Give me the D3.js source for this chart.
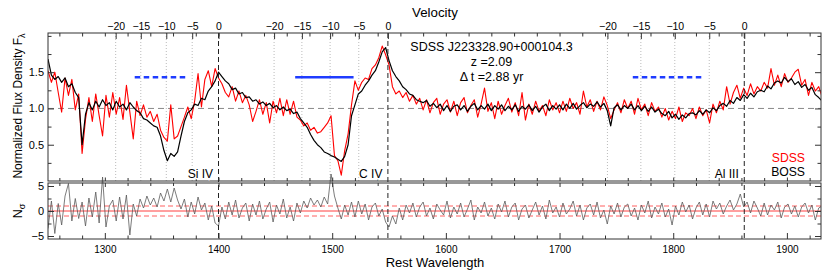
<!DOCTYPE html>
<meta charset='utf-8'>
<style>
body { margin: 0; background: #fff; }
svg text { font-family: 'Liberation Sans', Arial, sans-serif; fill: #000; }
.frame { fill: none; stroke: #333; stroke-width: 1; }
.axis path { display: none; }
.axis line { stroke: #333; }
.halo { stroke: #fff; stroke-width: 2.5; paint-order: stroke; }
</style>
<svg width='830' height='278'></svg>
<script src='https://cdn.jsdelivr.net/npm/d3@7'></script>
<script>
  // rest-frame wavelength grid, 3 A bins
  var wave = d3.range(1250, 1932, 3);

  // BOSS spectrum (black)
  var boss = [
    1.68, 1.46, 1.40, 1.44, 1.36, 1.42, 1.30, 1.34, 1.22, 1.15,
    0.50, 0.92, 1.08, 0.98, 1.10, 1.02, 1.12, 1.04, 1.08, 0.98,
    1.10, 1.02, 1.06, 0.98, 1.08, 1.02, 0.97, 0.94, 0.86, 0.84,
    0.80, 0.76, 0.74, 0.62, 0.42, 0.28, 0.38, 0.34, 0.40, 0.62,
    0.82, 0.94, 0.98, 1.06, 1.04, 1.14, 1.12, 1.24, 1.30, 1.38,
    1.50, 1.44, 1.38, 1.34, 1.26, 1.28, 1.20, 1.22, 1.15, 1.16,
    1.10, 1.12, 1.06, 1.09, 1.04, 1.07, 1.01, 1.04, 0.98, 1.02,
    0.97, 0.99, 0.93, 0.95, 0.86, 0.80, 0.74, 0.64, 0.56, 0.50,
    0.46, 0.40, 0.38, 0.35, 0.33, 0.30, 0.27, 0.34, 0.50, 0.90,
    1.05, 1.20, 1.24, 1.32, 1.38, 1.46, 1.52, 1.64, 1.78, 1.84,
    1.66, 1.52, 1.44, 1.38, 1.30, 1.26, 1.20, 1.18, 1.12, 1.10,
    1.08, 1.11, 1.03, 1.07, 1.01, 1.06, 0.97, 1.04, 0.96, 1.03,
    1.05, 0.98, 1.04, 0.96, 1.03, 1.07, 0.98, 1.04, 0.99, 1.06,
    0.97, 1.04, 0.99, 1.05, 0.97, 1.03, 0.98, 1.05, 0.96, 1.03,
    0.99, 1.05, 0.97, 1.03, 0.95, 1.02, 1.06, 0.97, 1.04, 0.99,
    1.05, 0.98, 1.06, 1.00, 1.07, 0.99, 1.04, 1.08, 1.01, 1.06,
    1.03, 1.09, 1.02, 1.07, 0.97, 0.76, 1.01, 1.05, 0.98, 1.04,
    1.00, 1.06, 0.98, 1.04, 0.97, 1.03, 0.96, 1.02, 0.95, 0.99,
    0.93, 0.90, 0.96, 0.87, 0.92, 0.85, 0.91, 0.87, 0.93, 0.94,
    0.91, 0.97, 0.92, 0.98, 0.94, 1.01, 0.97, 1.04, 1.07, 1.03,
    1.11, 1.07, 1.15, 1.11, 1.19, 1.14, 1.21, 1.16, 1.23, 1.25,
    1.23, 1.31, 1.27, 1.35, 1.38, 1.35, 1.43, 1.37, 1.41, 1.33,
    1.37, 1.29, 1.33, 1.25, 1.29, 1.19, 1.15, 1.10
  ];

  // SDSS spectrum (red)
  var sdss = [
    1.52, 1.36, 1.50, 1.22, 0.95, 1.42, 1.18, 1.40, 0.98, 1.20,
    0.38, 0.85, 1.15, 0.82, 1.20, 0.90, 0.62, 1.18, 0.88, 1.22,
    0.92, 1.15, 0.85, 1.32, 0.95, 0.58, 1.10, 0.90, 1.05, 0.88,
    0.96, 0.82, 0.92, 0.70, 0.60, 0.55, 1.05, 0.58, 0.62, 0.75,
    0.88, 1.02, 0.86, 1.10, 1.48, 1.02, 1.40, 1.52, 1.30, 1.55,
    1.42, 1.34, 1.22, 1.16, 1.30, 1.10, 1.24, 1.08, 1.18, 1.05,
    0.82, 0.96, 1.12, 0.92, 1.08, 0.80, 1.10, 0.94, 1.14, 0.90,
    1.12, 0.92, 1.10, 0.88, 0.84, 0.76, 0.80, 0.70, 0.74, 0.66,
    0.68, 0.74, 0.80, 0.90, 0.35, 0.28, 0.08, 0.42, 0.65, 1.05,
    1.38, 1.25, 1.36, 1.42, 1.40, 1.55, 1.60, 1.70, 1.86, 1.74,
    1.60, 1.30, 1.20, 1.24, 1.15, 1.22, 1.10, 1.18, 1.06, 1.14,
    0.98, 1.12, 0.94, 1.08, 1.14, 0.92, 1.06, 1.12, 0.95, 1.10,
    0.90, 1.08, 1.15, 0.94, 1.04, 1.12, 0.88, 1.06, 1.28, 0.96,
    1.08, 0.86, 1.10, 0.92, 1.04, 1.14, 0.95, 1.08, 0.90, 1.22,
    0.84, 1.06, 0.92, 1.10, 0.96, 1.04, 0.90, 1.12, 0.98, 1.08,
    0.94, 1.10, 0.96, 1.14, 1.00, 1.08, 0.92, 1.24, 1.02, 1.12,
    0.96, 1.10, 0.98, 1.16, 1.04, 0.86, 0.98, 1.08, 0.94, 1.12,
    1.00, 1.10, 0.92, 1.14, 0.98, 1.06, 0.90, 1.08, 0.96, 1.02,
    0.88, 1.00, 0.84, 0.96, 0.86, 1.02, 0.82, 0.94, 0.90, 1.00,
    0.86, 1.02, 0.90, 0.98, 0.80, 1.06, 0.94, 1.10, 0.98, 1.30,
    1.06, 1.22, 1.32, 1.14, 1.28, 1.18, 1.34, 1.20, 1.30, 1.24,
    1.36, 1.28, 1.55, 1.32, 1.46, 1.30, 1.48, 1.36, 1.42, 1.50,
    1.54, 1.32, 1.40, 1.18, 1.36, 1.24, 1.30, 1.16
  ];

  // N_sigma difference (bottom panel)
  var nsig = [
    -3.5, 2.0, -4.5, 1.5, -2.8, 3.0, 5.5, -2.0, 2.5, -1.5,
    1.8, -3.0, 2.6, -1.2, 3.8, -2.4, 6.8, -3.2, 1.0, 2.2,
    -2.0, 2.8, -1.6, 3.2, -4.8, 1.4, -1.0, 2.4, 0.6, 3.0,
    1.2, 2.6, 0.8, 3.6, 2.0, 4.4, 1.8, 4.6, 2.2, 0.4,
    2.4, -1.2, 1.8, -0.6, 2.8, 0.2, 1.6, -1.8, 1.0, -2.4,
    -3.0, 0.8, -1.6, 1.8, -0.8, 2.2, -1.4, 0.6, 1.6, -2.0,
    1.4, -0.8, 2.0, -1.6, 0.4, 1.8, -2.2, 1.2, -0.6, 2.4,
    -1.4, 0.8, -2.0, 1.6, -0.4, 2.0, 0.6, 2.6, 1.2, 2.2,
    0.8, 2.8, 1.4, 7.4, 3.0, 0.6, -1.6, 1.2, -0.8, 1.8,
    -1.2, 2.0, -0.6, 1.4, -1.8, 0.8, 1.6, -1.0, 0.4, -2.2,
    -3.2, -1.0, -2.6, 0.6, -1.8, 1.2, -0.4, 1.6, -1.2, 0.8,
    1.8, -1.0, 0.6, -1.6, 1.4, 0.2, -0.8, 2.0, -1.4, 0.8,
    -0.6, 1.6, -1.2, 0.4, 2.2, -1.8, 0.8, -0.4, 1.8, -1.0,
    0.6, -1.6, 1.4, -0.2, 2.0, -1.2, 0.8, 1.6, -1.8, 0.4,
    1.2, -1.4, 0.2, 1.8, -0.8, 1.0, -1.6, 2.2, -0.4, 0.8,
    -1.2, 1.6, -0.6, 0.4, 2.0, -1.0, 1.2, -1.8, 0.6, 1.4,
    -0.8, 1.8, -1.4, 0.2, -2.6, 1.0, -0.6, 1.6, -1.2, 0.8,
    1.4, -1.0, 0.6, -1.8, 1.2, -0.4, 2.0, -1.4, 0.8, -0.6,
    1.6, -1.2, 0.4, -2.8, 1.0, -0.8, 1.8, -0.2, 1.2, -1.6,
    0.6, 1.8, -0.8, 1.4, -1.2, 2.0, 0.4, 1.6, -0.6, 1.0,
    2.2, 0.2, 1.4, 3.4, 0.8, 1.8, -0.4, 2.0, 0.6, -1.0,
    1.6, -0.8, 1.2, 0.2, 1.8, -1.4, 0.8, 1.4, -0.6, 1.0,
    -1.2, 0.8, 1.6, -0.4, 1.2, -1.8, 0.6, 1.0
  ];

  var lineNames = ['Si IV', 'C IV', 'Al III'];
  var lineWave = [1400, 1549, 1862.5];
  var troughDashed = [true, false, true];
  var troughVel = [-16.2, -5.9];      // 1000 km/s
  var troughLevel = 1.43;
  var velTicks = [-20, -15, -10, -5, 0];
  var waveTicks = [1300, 1400, 1500, 1600, 1700, 1800, 1900];
  var fluxTicks = [0.5, 1.0, 1.5];
  var fluxMinor = [0.25, 0.75, 1.25, 1.75, 2.0];
  var nsigTicks = [-5, 0, 5];
  var nsigMinor = [-2.5, 2.5];

  var svg = d3.select('svg');
  var L = 48, R = 821, T1 = 33, B1 = 181, T2 = 183, B2 = 239;

  var x = d3.scaleLinear().domain([1250, 1930]).range([L, R]);
  var y1 = d3.scaleLinear().domain([0, 2.04]).range([B1, T1]);
  var y2 = d3.scaleLinear().domain([-5.6, 5.6]).range([B2, T2]);

  var c = 299792.458;
  function velToWave(v, w0) {
    var b = v * 1000 / c;
    return w0 * Math.sqrt((1 + b) / (1 - b));
  }
  function minus(d) { return d < 0 ? '\u2212' + (-d) : '' + d; }

  var defs = svg.append('defs');
  defs.append('clipPath').attr('id', 'clipTop')
    .append('rect').attr('x', L).attr('y', T1).attr('width', R - L).attr('height', B1 - T1);
  defs.append('clipPath').attr('id', 'clipBot')
    .append('rect').attr('x', L).attr('y', 0).attr('height', B2).attr('width', R - L);

  // ---- top panel guides
  var guides = svg.append('g');
  lineWave.forEach(function(w0) {
    velTicks.slice(0, 4).forEach(function(v) {
      guides.append('line')
        .attr('x1', x(velToWave(v, w0))).attr('x2', x(velToWave(v, w0)))
        .attr('y1', T1).attr('y2', B1)
        .attr('stroke', '#aaa').attr('stroke-width', 0.8).attr('stroke-dasharray', '1,2');
    });
  });
  guides.append('line')
    .attr('x1', L).attr('x2', R).attr('y1', y1(1)).attr('y2', y1(1))
    .attr('stroke', '#888').attr('stroke-dasharray', '6,4');

  // ---- spectra
  var line1 = d3.line().x(function(d, i) { return x(wave[i]); }).y(function(d) { return y1(d); });
  var spec = svg.append('g').attr('clip-path', 'url(#clipTop)');
  spec.append('path').datum(sdss).attr('d', line1)
    .attr('fill', 'none').attr('stroke', '#ff0000').attr('stroke-width', 1.1).attr('stroke-linejoin', 'round');
  spec.append('path').datum(boss).attr('d', line1)
    .attr('fill', 'none').attr('stroke', '#000').attr('stroke-width', 1.2).attr('stroke-linejoin', 'round');

  // ---- BAL trough markers
  lineWave.forEach(function(w0, i) {
    svg.append('line')
      .attr('x1', x(velToWave(troughVel[0], w0))).attr('x2', x(velToWave(troughVel[1], w0)))
      .attr('y1', y1(troughLevel)).attr('y2', y1(troughLevel))
      .attr('stroke', '#1f3cff').attr('stroke-width', 2.6)
      .attr('stroke-dasharray', troughDashed[i] ? '5.5,3.5' : null);
  });

  // ---- bottom panel
  var bot = svg.append('g');
  bot.append('line').attr('x1', L).attr('x2', R).attr('y1', y2(0)).attr('y2', y2(0))
    .attr('stroke', '#ff4040');
  [-1, 1].forEach(function(v) {
    bot.append('line').attr('x1', L).attr('x2', R).attr('y1', y2(v)).attr('y2', y2(v))
      .attr('stroke', '#ff6060').attr('stroke-dasharray', '5,3');
  });
  var line2 = d3.line().x(function(d, i) { return x(wave[i]); }).y(function(d) { return y2(d); });
  svg.append('g').attr('clip-path', 'url(#clipBot)')
    .append('path').datum(nsig).attr('d', line2)
    .attr('fill', 'none').attr('stroke', '#5a5a5a').attr('stroke-width', 0.8);

  // zero-velocity lines through both panels
  lineWave.forEach(function(w0) {
    svg.append('line').attr('x1', x(w0)).attr('x2', x(w0)).attr('y1', T1).attr('y2', B2)
      .attr('stroke', '#222').attr('stroke-dasharray', '5,3');
  });

  // ---- frames
  svg.append('rect').attr('class', 'frame').attr('x', L).attr('y', T1).attr('width', R - L).attr('height', B1 - T1);
  svg.append('rect').attr('class', 'frame').attr('x', L).attr('y', T2).attr('width', R - L).attr('height', B2 - T2);

  // ---- axes
  var waveMinor = d3.range(1260, 1931, 20).filter(function(d) { return d % 100 !== 0; });
  function addAxis(axis, tx, ty, fs) {
    var g = svg.append('g').attr('class', 'axis').attr('transform', 'translate(' + tx + ',' + ty + ')').call(axis);
    g.attr('font-family', null).attr('font-size', fs || 10);
    return g;
  }
  // wavelength ticks on every horizontal edge
  addAxis(d3.axisBottom(x).tickValues(waveTicks).tickSize(-6).tickPadding(7).tickFormat(d3.format('d')), 0, B2, 10);
  addAxis(d3.axisBottom(x).tickValues(waveMinor).tickSize(-3.5).tickFormat(''), 0, B2);
  addAxis(d3.axisTop(x).tickValues(waveTicks).tickSize(-4).tickFormat(''), 0, T2);
  addAxis(d3.axisTop(x).tickValues(waveMinor).tickSize(-3).tickFormat(''), 0, T2);
  addAxis(d3.axisBottom(x).tickValues(waveTicks).tickSize(-3.5).tickFormat(''), 0, B1);
  addAxis(d3.axisBottom(x).tickValues(waveMinor).tickSize(-3).tickFormat(''), 0, B1);
  addAxis(d3.axisTop(x).tickValues(waveTicks.concat(waveMinor)).tickSize(-3.5).tickFormat(''), 0, T1);

  // velocity axes on top
  lineWave.forEach(function(w0) {
    addAxis(d3.axisTop(x)
      .tickValues(velTicks.map(function(v) { return velToWave(v, w0); }))
      .tickSize(-6).tickPadding(3)
      .tickFormat(function(d, i) { return minus(velTicks[i]); }), 0, T1, 10.5);
  });

  // flux axes
  addAxis(d3.axisLeft(y1).tickValues(fluxTicks).tickSize(-6).tickPadding(4).tickFormat(d3.format('.1f')), L, 0, 11);
  addAxis(d3.axisLeft(y1).tickValues(fluxMinor).tickSize(-3.5).tickFormat(''), L, 0);
  addAxis(d3.axisRight(y1).tickValues(fluxTicks).tickSize(-6).tickFormat(''), R, 0);
  addAxis(d3.axisRight(y1).tickValues(fluxMinor).tickSize(-3.5).tickFormat(''), R, 0);

  // N_sigma axes
  addAxis(d3.axisLeft(y2).tickValues(nsigTicks).tickSize(-6).tickPadding(4).tickFormat(minus), L, 0, 11);
  addAxis(d3.axisLeft(y2).tickValues(nsigMinor).tickSize(-3.5).tickFormat(''), L, 0);
  addAxis(d3.axisRight(y2).tickValues(nsigTicks).tickSize(-6).tickFormat(''), R, 0);
  addAxis(d3.axisRight(y2).tickValues(nsigMinor).tickSize(-3.5).tickFormat(''), R, 0);

  // ---- labels
  svg.append('text').attr('x', 435).attr('y', 16.5).attr('text-anchor', 'middle')
    .attr('font-size', 13.3).text('Velocity');
  svg.append('text').attr('x', 435).attr('y', 266.5).attr('text-anchor', 'middle')
    .attr('font-size', 13).text('Rest Wavelength');

  var yl = svg.append('text').attr('transform', 'translate(22,106) rotate(-90)')
    .attr('text-anchor', 'middle').attr('font-size', 12);
  yl.append('tspan').text('Normalized Flux Density F');
  yl.append('tspan').attr('dy', 3).attr('font-size', 9).text('\u03bb');

  var nl = svg.append('text').attr('transform', 'translate(22,211) rotate(-90)')
    .attr('text-anchor', 'middle').attr('font-size', 12.5);
  nl.append('tspan').text('N');
  nl.append('tspan').attr('dy', 3).attr('font-size', 9).text('\u03c3');

  var info = ['SDSS J223328.90+000104.3', 'z =2.09', '\u0394 t =2.88 yr'];
  info.forEach(function(t, i) {
    svg.append('text').attr('x', 491.5).attr('y', 51 + i * 15)
      .attr('text-anchor', 'middle').attr('font-size', 12.5).text(t);
  });

  lineNames.forEach(function(n, i) {
    svg.append('text').attr('class', 'halo').attr('x', x(lineWave[i]) - 5.5).attr('y', 178)
      .attr('text-anchor', 'end').attr('font-size', 12).text(n);
  });

  svg.append('text').attr('class', 'halo').attr('x', 805).attr('y', 161.5).attr('text-anchor', 'end')
    .attr('font-size', 12.2).style('fill', '#ff0000').text('SDSS');
  svg.append('text').attr('class', 'halo').attr('x', 805).attr('y', 175.5).attr('text-anchor', 'end')
    .attr('font-size', 12.2).text('BOSS');
</script>
